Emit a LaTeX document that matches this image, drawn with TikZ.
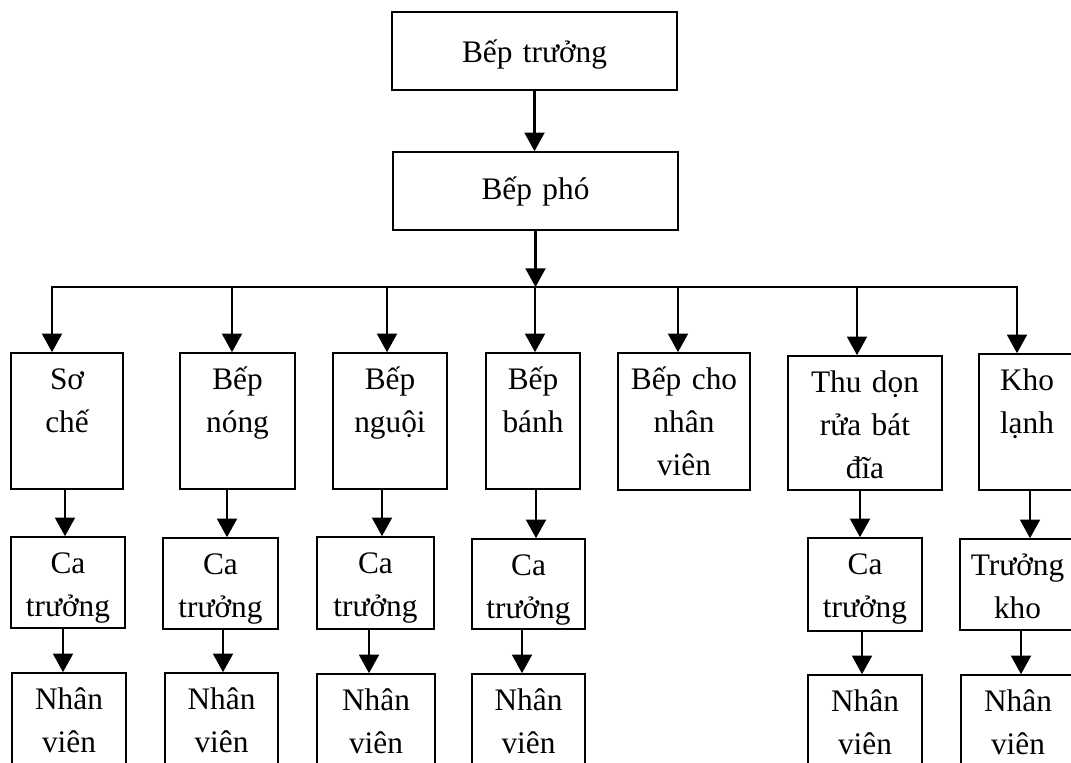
\documentclass[tikz,border=0pt]{standalone}
\usepackage{fontspec}
\setmainfont{Liberation Serif}
\usetikzlibrary{arrows.meta,fit}
\begin{document}
\begin{tikzpicture}[x=0.75pt,y=-0.75pt,
  box/.style={draw, line width=1.2pt, inner sep=0pt, rectangle},
  lbl/.style={anchor=base, inner sep=0pt, text width=160pt, align=center,
    font=\fontsize{23.5}{32.25}\selectfont},
  link/.style={line width=1.6pt},
  tip/.tip={Triangle[length=14pt,width=15pt]},
  arr/.style={link, -tip},
  arrboth/.style={link, tip-tip, line join=miter}]
\useasboundingbox (0,0) rectangle (1071,763);

% head chef and sous chef
\node[box, fit={(392,12) (677,90)}] (chef) {};
\node[lbl] (chef-t) at ([yshift=-38.25pt]chef.north) {Bếp trưởng};
\node[box, fit={(393,152) (678,230)}] (sous) {};
\node[lbl] (sous-t) at ([yshift=-36pt]sous.north) {Bếp phó};

% sections
\node[box, fit={(11,353) (123,489)}] (soche) {};
\node[box, fit={(180,353) (295,489)}] (bepnong) {};
\node[box, fit={(333,353) (447,489)}] (bepnguoi) {};
\node[box, fit={(486,353) (580,489)}] (bepbanh) {};
\node[box, fit={(618,353) (750,490)}] (bepnv) {};
\node[box, fit={(788,356) (942,490)}] (thudon) {};
\node[box, fit={(979,354) (1075,490)}] (kholanh) {};
\node[lbl] (soche-t) at ([yshift=-27.75pt]soche.north) {Sơ\\chế};
\node[lbl] (bepnong-t) at ([yshift=-27.75pt]bepnong.north) {Bếp\\nóng};
\node[lbl] (bepnguoi-t) at ([yshift=-27.75pt]bepnguoi.north) {Bếp\\nguội};
\node[lbl] (bepbanh-t) at ([yshift=-27.75pt]bepbanh.north) {Bếp\\bánh};
\node[lbl] (bepnv-t) at ([yshift=-27.75pt]bepnv.north) {Bếp cho\\nhân\\viên};
\node[lbl] (thudon-t) at ([yshift=-27.75pt]thudon.north) {Thu dọn\\rửa bát\\đĩa};
\node[lbl] (kholanh-t) at ([yshift=-27.75pt]kholanh.north) {Kho\\lạnh};

% shift leaders
\node[box, fit={(11,537) (125,628)}] (ca1) {};
\node[box, fit={(163,538) (278,629)}] (ca2) {};
\node[box, fit={(317,537) (434,629)}] (ca3) {};
\node[box, fit={(472,539) (585,629)}] (ca4) {};
\node[box, fit={(808,538) (922,631)}] (ca6) {};
\node[box, fit={(960,539) (1075,630)}] (tkho) {};
\foreach \n in {ca1,ca2,ca3,ca4,ca6}
  \node[lbl] (\n-t) at ([yshift=-27.75pt]\n.north) {Ca\\trưởng};
\node[lbl] (tkho-t) at ([yshift=-27.75pt]tkho.north) {Trưởng\\kho};

% staff
\node[box, fit={(12,673) (126,775)}] (nv1) {};
\node[box, fit={(165,673) (278,775)}] (nv2) {};
\node[box, fit={(317,674) (435,775)}] (nv3) {};
\node[box, fit={(472,674) (585,775)}] (nv4) {};
\node[box, fit={(808,675) (922,775)}] (nv6) {};
\node[box, fit={(961,675) (1075,775)}] (nv7) {};
\foreach \n in {nv1,nv2,nv3,nv4,nv6,nv7}
  \node[lbl] (\n-t) at ([yshift=-27.75pt]\n.north) {Nhân\\viên};

% connectors
\coordinate (bus) at (535,287);
\coordinate (busL) at (52,287);
\coordinate (busR) at (1017,287);
\draw[arr] (chef.south) -- (chef.south |- sous.north);
\draw[arr] (sous.south) -- (sous.south |- bus);
\draw[arrboth] (busL |- soche.north) -- (busL) -- (busR) -- (busR |- kholanh.north);
\draw[arr] (bus -| 232,0) -- (bepnong.north -| 232,0);
\draw[arr] (bus -| 387,0) -- (bepnguoi.north -| 387,0);
\draw[arr] (bus) -- (bepbanh.north -| bus);
\draw[arr] (bus -| 678,0) -- (bepnv.north -| 678,0);
\draw[arr] (bus -| 857,0) -- (thudon.north -| 857,0);

\draw[arr] (soche.south -| 65,0) -- (ca1.north -| 65,0);
\draw[arr] (bepnong.south -| 227,0) -- (ca2.north -| 227,0);
\draw[arr] (bepnguoi.south -| 382,0) -- (ca3.north -| 382,0);
\draw[arr] (bepbanh.south -| 536,0) -- (ca4.north -| 536,0);
\draw[arr] (thudon.south -| 860,0) -- (ca6.north -| 860,0);
\draw[arr] (kholanh.south -| 1030,0) -- (tkho.north -| 1030,0);

\draw[arr] (ca1.south -| 63,0) -- (nv1.north -| 63,0);
\draw[arr] (ca2.south -| 223,0) -- (nv2.north -| 223,0);
\draw[arr] (ca3.south -| 369,0) -- (nv3.north -| 369,0);
\draw[arr] (ca4.south -| 522,0) -- (nv4.north -| 522,0);
\draw[arr] (ca6.south -| 862,0) -- (nv6.north -| 862,0);
\draw[arr] (tkho.south -| 1021,0) -- (nv7.north -| 1021,0);
\end{tikzpicture}
\end{document}
